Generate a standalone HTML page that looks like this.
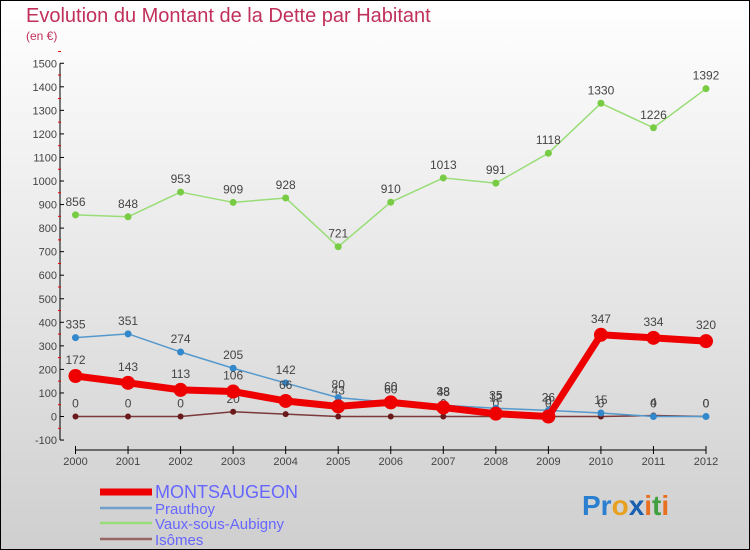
<!DOCTYPE html>
<html><head><meta charset="utf-8"><style>
body{margin:0;width:750px;height:550px;overflow:hidden;font-family:"Liberation Sans",sans-serif}
svg{display:block}
</style></head><body>
<svg id="c" width="750" height="550" viewBox="0 0 750 550" xmlns="http://www.w3.org/2000/svg">
<defs><linearGradient id="bg" x1="0" y1="0" x2="0" y2="1"><stop offset="0" stop-color="#ffffff"/><stop offset="1" stop-color="#cfcfcf"/></linearGradient></defs>
<rect x="0.5" y="0.5" width="749" height="549" fill="url(#bg)" stroke="#000"/>
<text x="26" y="22" font-size="20" fill="#c0305a">Evolution du Montant de la Dette par Habitant</text>
<text x="26" y="40" font-size="12" fill="#c0305a">(en €)</text>
<g id="axes"></g><g id="series"></g><g id="legend"></g>
<text x="582" y="515" font-size="28" font-weight="bold"><tspan fill="#2a7fd0">Pr</tspan><tspan fill="#e8a020">o</tspan><tspan fill="#1a60b0">x</tspan><tspan fill="#e87020">i</tspan><tspan fill="#40a040">t</tspan><tspan fill="#e87020">i</tspan></text>
</svg>
<script>
const years=[2000,2001,2002,2003,2004,2005,2006,2007,2008,2009,2010,2011,2012];
const yTicks=[-100,0,100,200,300,400,500,600,700,800,900,1000,1100,1200,1300,1400,1500];
const montsaugeon=[172,143,113,106,66,43,60,38,12,0,347,334,320];
const prauthoy=[335,351,274,205,142,80,60,48,35,26,15,0,0];
const vaux=[856,848,953,909,928,721,910,1013,991,1118,1330,1226,1392];
const isomes=[0,0,0,20,10,0,0,0,0,0,0,4,0];
const NS="http://www.w3.org/2000/svg";
function X(i){return 75.5+i*(706-75.5)/(years.length-1);}
function Y(v){return 416.5-v*0.2355;}
function mk(tag,attrs,parent){const e=document.createElementNS(NS,tag);for(const k in attrs)e.setAttribute(k,attrs[k]);parent.appendChild(e);return e;}
const axes=document.getElementById('axes');
let yl=mk('line',{x1:60,y1:Y(1500),x2:60,y2:Y(-100),stroke:'#000'},axes);


yTicks.forEach(t=>{
  mk('line',{x1:60,y1:Y(t),x2:64,y2:Y(t),stroke:'#000'},axes);
  mk('line',{x1:58,y1:Y(t+50),x2:61,y2:Y(t+50),stroke:'#e00'},axes);
  const tx=mk('text',{x:57,y:Y(t)+4,'font-size':11,fill:'#444','text-anchor':'end'},axes);
  tx.textContent=t;
  
  
});
let xl=mk('line',{x1:X(0),y1:450,x2:X(12),y2:450,stroke:'#000'},axes);


years.forEach((yr,i)=>{
  mk('line',{x1:X(i),y1:446,x2:X(i),y2:454,stroke:'#000'},axes);
  const tx=mk('text',{x:X(i),y:465,'font-size':11,fill:'#444','text-anchor':'middle'},axes);
  tx.textContent=yr;
  
  
});
const sg=document.getElementById('series');
function draw(vals,name,color,w,r,dot,labelDy){
  const g=mk('g',{},sg);
  
  
  const pl=mk('polyline',{points:vals.map((v,i)=>X(i)+','+Y(v)).join(' '),fill:'none',stroke:color,'stroke-width':w,'stroke-linejoin':'round'},g);
  
  
  vals.forEach((v,i)=>{
    const c=mk('circle',{cx:X(i),cy:Y(v),r:r,fill:dot},g);
    
    
    const t=mk('text',{x:X(i),y:Y(v)+labelDy,'font-size':12,fill:'#444','text-anchor':'middle'},g);
    t.textContent=v;
    
    
  });
}
draw(isomes,'isomes','#7a3a3a',1.5,3,'#6a1a1a',-9);
draw(vaux,'vaux-sous-aubigny','#99dd77',1.5,3.5,'#77cc44',-9);
draw(prauthoy,'prauthoy','#5599cc',1.5,3.5,'#3388cc',-9);
draw(montsaugeon,'montsaugeon','#ee0000',7,7,'#ee0000',-12);
const lg=document.getElementById('legend');
const items=[['MONTSAUGEON','#ee0000',7,16],['Prauthoy','#6fa0cc',2.5,13],['Vaux-sous-Aubigny','#99dd77',2.5,13],['Isômes','#996666',2.5,13]];
const rowsY=[492,508,523,539];
items.forEach((it,k)=>{
  const g=mk('g',{},lg);
  
  
  mk('line',{x1:100,y1:rowsY[k],x2:152,y2:rowsY[k],stroke:it[1],'stroke-width':it[2]},g);
  const t=mk('text',{x:155,y:rowsY[k]+6,'font-size':it[3]+2,fill:'#6666ff'},g);
  t.textContent=it[0];
});
</script>
</body></html>
